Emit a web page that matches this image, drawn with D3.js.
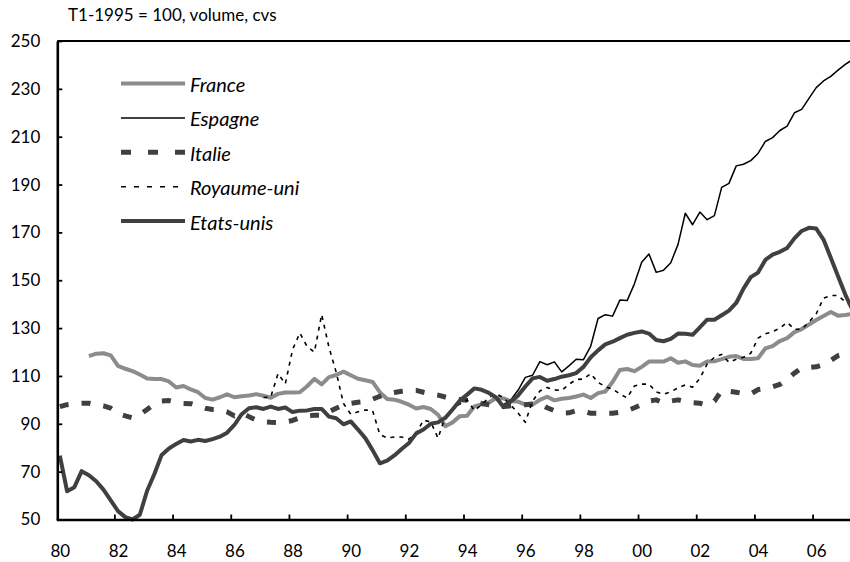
<!DOCTYPE html>
<html>
<head>
<meta charset="utf-8">
<script src="https://cdn.jsdelivr.net/npm/d3@7/dist/d3.min.js"></script>
<style>
  body { margin: 0; background: #fff; }
  svg { display: block; font-family: Lato, "Open Sans", sans-serif; }
</style>
</head>
<body>
<svg id="chart" width="850" height="562"></svg>
<script>
FIRST_YEAR = 1980
N_QUARTERS = 110      // T1-1980 .. T2-2007, last one falls off the right edge

// quarter categories (T1-1980, T2-1980, ...)
var quarters = d3.range(N_QUARTERS).map(function(i) {
    return "T" + (i % 4 + 1) + "-" + (FIRST_YEAR + Math.floor(i / 4));
});

var yearLabels = ["80", "82", "84", "86", "88", "90", "92", "94", "96", "98", "00", "02", "04", "06"];
var yTicks = [50, 70, 90, 110, 130, 150, 170, 190, 210, 230, 250];

// series. each one starts at the quarter given next to it
var franceStart = "T1-1981";
var france = [118.3, 119.3, 119.5, 118.6, 114.2, 113, 112, 110.6, 108.9, 108.7, 108.7, 107.7,
    105.2, 105.8, 104.4, 103.2, 100.8, 100.1, 101.1, 102.3, 101.1, 101.5, 101.8, 102.4,
    101.7, 100.9, 102.5, 103.1, 103.1, 103.2, 105.7, 108.8, 106.5, 109.5, 110.4, 111.8,
    110.3, 108.8, 108.2, 107.5, 103.2, 100.4, 100.1, 99.2, 98, 96.4, 97, 96.2,
    93.8, 89, 90.6, 93.2, 93.4, 97.3, 98.1, 98.9, 100.8, 100.6, 99.4, 99.3,
    98, 98, 100, 101.3, 99.8, 100.5, 100.8, 101.4, 102.2, 100.8, 102.8, 103.5,
    107.5, 112.5, 112.9, 112, 113.8, 116, 116, 116, 117.4, 115.5, 116.1, 114.6,
    114.3, 116, 116.1, 117, 118, 118.3, 117.1, 117.1, 117.4, 121.5, 122.5, 124.6,
    125.8, 128.3, 129.6, 131.5, 133.4, 135.1, 136.7, 135.2, 135.5, 136];

var espagneStart = "T1-1995";
var espagne = [100, 98, 100, 104, 109.4, 110.3, 116, 114.7, 115.9, 111.7, 114.2, 117,
    116.8, 122.5, 134, 135.6, 135, 141.7, 141.5, 148.5, 157.5, 161, 153.3, 154.2,
    157.3, 165, 178, 173.2, 178.5, 175.3, 177, 188.8, 190.5, 197.8, 198.5, 200,
    203, 208, 209.6, 212.6, 214.4, 220, 221.4, 226, 230.5, 233.3, 235.2, 237.8,
    240.2, 242.3];

var italieStart = "T1-1980";
var italie = [97.2, 98, 98.4, 98.6, 98.6, 98, 97.5, 96.5, 94.3, 93.3, 92.5, 93.8,
    96, 98.2, 99.5, 99.7, 99, 98.5, 98.4, 97.5, 96.5, 96, 95.9, 95,
    93.3, 94.5, 93, 91.5, 90.8, 90.6, 90.5, 90.8, 91.4, 92.5, 93.3, 93.6,
    93.5, 95, 96.5, 97.8, 98.5, 99, 99.3, 100.3, 101.5, 102.6, 103.1, 103.6,
    104, 104, 103.2, 102.5, 102, 101.2, 100.5, 100.2, 99.8, 99.1, 98.5, 98,
    97.6, 97.2, 97.5, 97.8, 98, 98.3, 98.5, 96.7, 95.5, 94.5, 94.6, 95.5,
    95.2, 94.4, 94.4, 94.4, 94.4, 94.8, 95.5, 96.7, 98, 99.5, 100, 98.7,
    99.5, 100, 99.3, 98.8, 98.6, 97.8, 99.5, 103.9, 103.6, 103.2, 102.6, 102.5,
    104.3, 104.8, 105.5, 106.5, 108.5, 111.2, 113.3, 113.5, 113.8, 114.8, 116.5, 118.5,
    119.4, 120];

var royaumeUniStart = "T1-1987";
var royaumeUni = [101, 101.2, 111, 106.7, 121, 128, 122.3, 120, 135.7, 122, 111.5, 98.5,
    94, 95, 95.8, 95.5, 85.5, 84.1, 84.5, 84.5, 83.6, 86, 91.5, 90.8,
    84, 93, 96.3, 98.3, 100, 95.5, 98, 101, 102.5, 101, 97.8, 94.5,
    90.6, 99.5, 103.7, 105.2, 104.2, 103.9, 106.5, 108.5, 108.7, 111, 107.3, 105.5,
    104.5, 102.5, 100.8, 105.8, 106.6, 106.6, 103.3, 102.3, 103.4, 105, 106.3, 105.3,
    109, 115, 117.8, 119, 115.7, 117, 117.8, 119.5, 125.8, 127.6, 128.5, 130,
    132.4, 129.5, 129.5, 132.5, 136, 142.5, 143.6, 143.6, 141, 139];

var etatsUnisStart = "T1-1980";
var etatsUnis = [76.7, 61.8, 63.5, 70.2, 68.5, 66, 62.5, 58, 53.5, 51, 50, 52,
    62, 69, 77, 79.7, 81.6, 83.2, 82.6, 83.3, 82.8, 83.6, 84.6, 86.3,
    89.5, 94, 96.5, 96.9, 96.2, 97.2, 96.2, 96.8, 94.9, 95.5, 95.6, 96.2,
    96.2, 93, 92.3, 89.8, 91, 87.6, 84, 79, 73.5, 74.6, 76.8, 79.5,
    82, 86, 87.6, 90, 90.6, 92.5, 96, 99.7, 102.2, 104.8, 104.2, 102.9,
    101, 97, 99.4, 101.8, 105.6, 109, 109.6, 108, 108.7, 109.7, 110.3, 111.2,
    113.8, 117.8, 120.7, 123.2, 124.3, 125.8, 127.2, 128, 128.6, 127.7, 125, 124.5,
    125.5, 127.7, 127.6, 127.2, 130.3, 133.5, 133.5, 135.4, 137.3, 140.5, 146.5, 151.3,
    153.2, 158.5, 160.7, 161.9, 163.5, 167.5, 170.6, 171.9, 171.6, 167, 159.4, 151.7,
    144, 137.5];

var seriesNames = ["France", "Espagne", "Italie", "Royaume-uni", "Etats-unis"];

/* styles, one per series in the same order */
var styles = [
    { color: "#8c8c8c", width: 4,   dash: null,  legendDash: null },
    { color: "#000000", width: 1.5, dash: null,  legendDash: null },
    { color: "#404040", width: 5,   dash: "9,13", legendDash: "10,17" },
    { color: "#000000", width: 1.6, dash: "4,5", legendDash: "5,8" },
    { color: "#404040", width: 4,   dash: null,  legendDash: null }
];

function toPoints(values, start) {
    var offset = quarters.indexOf(start);
    return values.map(function(v, k) { return { i: offset + k, v: v }; });
}

var allSeries = [
    toPoints(france, franceStart),
    toPoints(espagne, espagneStart),
    toPoints(italie, italieStart),
    toPoints(royaumeUni, royaumeUniStart),
    toPoints(etatsUnis, etatsUnisStart)
];

var svg = d3.select("#chart");

var LEFT = 57.3, RIGHT = 850, TOP = 41, BOTTOM = 519.5;

// quarter index -> pixel; each quarter is a slot, points sit in the middle
var x = d3.scaleLinear().domain([0, N_QUARTERS]).range([56.2, 56.2 + N_QUARTERS * 7.273]);
var y = d3.scaleLinear().domain([50, 250]).range([BOTTOM, TOP]);

svg.append("defs").append("clipPath").attr("id", "plotclip")
    .append("rect").attr("x", LEFT).attr("y", 0)
    .attr("width", RIGHT - LEFT).attr("height", 562);

/* subtitle */
svg.append("text")
    .attr("x", 68).attr("y", 20.5)
    .style("font-size", "17px").style("fill", "#000")
    .text("T1-1995 = 100, volume, cvs");

/* top frame line */
svg.append("line")
    .attr("x1", LEFT).attr("x2", RIGHT)
    .attr("y1", y(250)).attr("y2", y(250))
    .style("stroke", "#000").style("stroke-width", 2.2);

/* lines */
var line = d3.line()
    .x(function(d) { return x(d.i + 0.5); })
    .y(function(d) { return y(d.v); });

var plot = svg.append("g").attr("clip-path", "url(#plotclip)");

allSeries.forEach(function(pts, s) {
    plot.append("path")
        .datum(pts)
        .attr("d", line)
        .style("fill", "none")
        .style("stroke", styles[s].color)
        .style("stroke-width", styles[s].width)
        .style("stroke-linejoin", "round")
        .style("stroke-dasharray", styles[s].dash);
});

/* y axis */
var yAxis = svg.append("g")
    .attr("transform", "translate(" + LEFT + ",0)")
    .call(d3.axisLeft(y).tickValues(yTicks).tickSizeInner(-5).tickSizeOuter(0).tickPadding(17));

/* x axis: ticks between years, labels on the first quarter of each even year */
var xTickAxis = svg.append("g")
    .attr("transform", "translate(0," + BOTTOM + ")")
    .call(d3.axisBottom(x).tickValues(d3.range(8, 105, 8)).tickSizeInner(-5).tickSizeOuter(0)
        .tickFormat(""));

var xLabelAxis = svg.append("g")
    .attr("transform", "translate(0," + BOTTOM + ")")
    .call(d3.axisBottom(x).tickValues(d3.range(0, 105, 8).map(function(v) { return v + 0.5; }))
        .tickSize(0).tickPadding(25)
        .tickFormat(function(d, k) { return yearLabels[k]; }));
xLabelAxis.select(".domain").remove();

[yAxis, xTickAxis].forEach(function(g) {
    g.select(".domain").style("stroke", "#000").style("stroke-width", 2.6);
    g.selectAll(".tick line").style("stroke", "#000").style("stroke-width", 1.8);
});
[yAxis, xLabelAxis].forEach(function(g) {
    g.selectAll("text").style("font-family", "Lato, 'Open Sans', sans-serif")
        .style("font-size", "17px").style("fill", "#000");
});

/* legend */
var legend = svg.append("g");
seriesNames.forEach(function(name, s) {
    var ly = 83.5 + s * 34.4;
    legend.append("line")
        .attr("x1", 121).attr("x2", 185)
        .attr("y1", ly).attr("y2", ly)
        .style("stroke", styles[s].color)
        .style("stroke-width", styles[s].width)
        .style("stroke-dasharray", styles[s].legendDash);
    legend.append("text")
        .attr("x", 190).attr("y", ly + 8.5)
        .style("font-size", "20px").style("font-style", "italic")
        .style("fill", "#000")
        .text(name);
});
</script>
</body>
</html>
